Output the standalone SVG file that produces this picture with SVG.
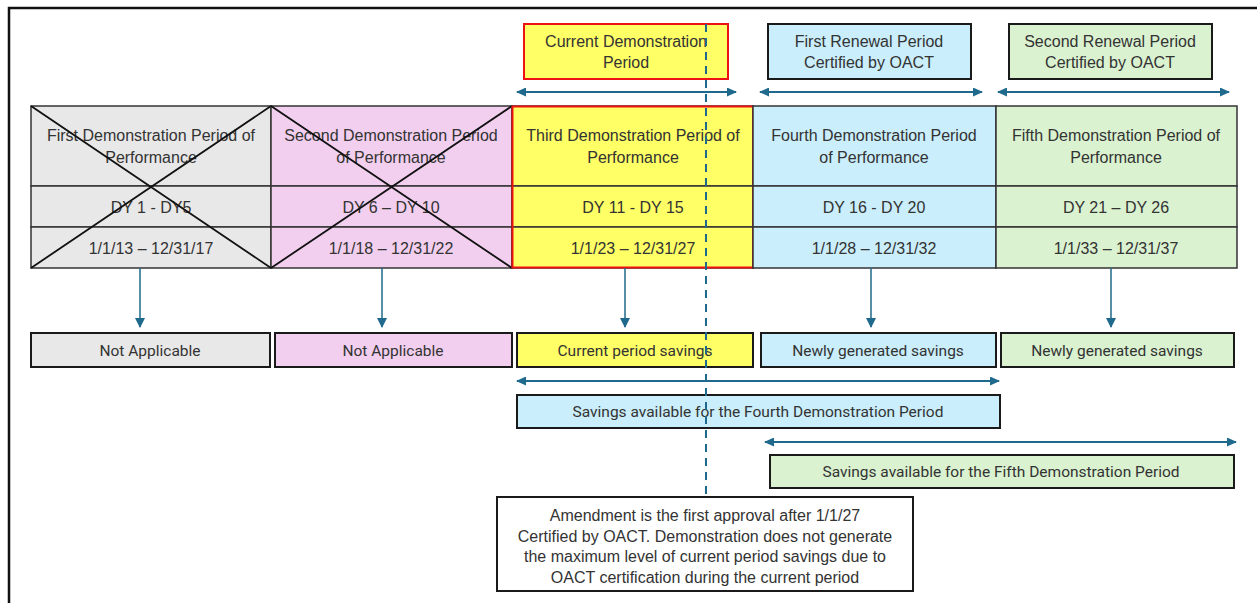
<svg xmlns="http://www.w3.org/2000/svg" width="1257" height="603" viewBox="0 0 1257 603">
<style>
text{font-family:"Liberation Sans",Arial,sans-serif;font-size:16px;fill:#333;text-anchor:middle;dominant-baseline:central}
.sm{font-family:"Roboto","Liberation Sans",sans-serif;font-size:15.5px}
.cell{stroke:#333;stroke-width:1.5}
.box{stroke:#1a1a1a;stroke-width:2}
.red{stroke:#ee1111;stroke-width:2}
.x{stroke:#111;stroke-width:1.8}
.con{stroke:#1f6a8c;stroke-width:1.5;fill:none}
.con2{stroke:#1f6a8c;stroke-width:2;fill:none}
.dash{stroke:#1f6a8c;stroke-width:2;stroke-dasharray:8 6;fill:none}
.gray{fill:#e8e8e8}.pink{fill:#f2cfee}.yel{fill:#ffff66}.blue{fill:#caeefb}.green{fill:#daf2d0}
</style>
<defs>
<marker id="ah" viewBox="0 0 10 10" refX="9" refY="5" markerWidth="10" markerHeight="9" markerUnits="userSpaceOnUse" orient="auto-start-reverse" preserveAspectRatio="none"><path d="M0,0 L10,5 L0,10 z" fill="#1f6a8c"/></marker>
<marker id="ad" viewBox="0 0 10 10" refX="9" refY="5" markerWidth="10" markerHeight="10" markerUnits="userSpaceOnUse" orient="auto"><path d="M0,0 L10,5 L0,10 z" fill="#1f6a8c"/></marker>
</defs>
<rect x="0" y="0" width="1257" height="603" fill="#fff"/>
<path d="M9,603 V8 H1257" fill="none" stroke="#111" stroke-width="2.5"/>

<g id="top-current"><rect x="524" y="24" width="204" height="55" class="yel red"/><text x="626" y="41">Current Demonstration</text><text x="626" y="62">Period</text></g>
<g id="top-first"><rect x="768" y="24" width="203" height="55" class="blue box"/><text x="869" y="41">First Renewal Period</text><text x="869" y="62">Certified by OACT</text></g>
<g id="top-second"><rect x="1009" y="24" width="203" height="55" class="green box"/><text x="1110" y="41">Second Renewal Period</text><text x="1110" y="62">Certified by OACT</text></g>

<g id="col1">
<rect x="31" y="106" width="240" height="80" class="gray cell"/><rect x="31" y="186" width="240" height="41" class="gray cell"/><rect x="31" y="227" width="240" height="41" class="gray cell"/>
<text x="151" y="135">First Demonstration Period of</text><text x="151" y="157">Performance</text>
<text x="151" y="207">DY 1 - DY5</text><text x="151" y="248">1/1/13 – 12/31/17</text>
<path d="M31,106 L271,268 M31,268 L271,106" class="x"/>
</g>
<g id="col2">
<rect x="271" y="106" width="241" height="80" class="pink cell"/><rect x="271" y="186" width="241" height="41" class="pink cell"/><rect x="271" y="227" width="241" height="41" class="pink cell"/>
<text x="391" y="135">Second Demonstration Period</text><text x="391" y="157">of Performance</text>
<text x="391" y="207">DY 6 – DY 10</text><text x="391" y="248">1/1/18 – 12/31/22</text>
<path d="M271,106 L512,268 M271,268 L512,106" class="x"/>
</g>
<g id="col3">
<rect x="512" y="106" width="241" height="80" class="yel cell"/><rect x="512" y="186" width="241" height="41" class="yel cell"/><rect x="512" y="227" width="241" height="41" class="yel cell"/>
<rect x="512.5" y="106.5" width="240.5" height="161" fill="none" class="red"/>
<text x="633" y="135">Third Demonstration Period of</text><text x="633" y="157">Performance</text>
<text x="633" y="207">DY 11 - DY 15</text><text x="633" y="248">1/1/23 – 12/31/27</text>
</g>
<g id="col4">
<rect x="753" y="106" width="243" height="80" class="blue cell"/><rect x="753" y="186" width="243" height="41" class="blue cell"/><rect x="753" y="227" width="243" height="41" class="blue cell"/>
<text x="874" y="135">Fourth Demonstration Period</text><text x="874" y="157">of Performance</text>
<text x="874" y="207">DY 16 - DY 20</text><text x="874" y="248">1/1/28 – 12/31/32</text>
</g>
<g id="col5">
<rect x="996" y="106" width="241" height="80" class="green cell"/><rect x="996" y="186" width="241" height="41" class="green cell"/><rect x="996" y="227" width="241" height="41" class="green cell"/>
<text x="1116" y="135">Fifth Demonstration Period of</text><text x="1116" y="157">Performance</text>
<text x="1116" y="207">DY 21 – DY 26</text><text x="1116" y="248">1/1/33 – 12/31/37</text>
</g>

<g id="na1"><rect x="31" y="333" width="239" height="34" class="gray box"/><text class="sm" x="150" y="351">Not Applicable</text></g>
<g id="na2"><rect x="275" y="333" width="237" height="34" class="pink box"/><text class="sm" x="393" y="351">Not Applicable</text></g>
<g id="cur"><rect x="517" y="333" width="236" height="34" class="yel box"/><text class="sm" x="635" y="351">Current period savings</text></g>
<g id="new4"><rect x="761" y="333" width="235" height="34" class="blue box"/><text class="sm" x="878" y="351">Newly generated savings</text></g>
<g id="new5"><rect x="1001" y="333" width="233" height="34" class="green box"/><text class="sm" x="1117" y="351">Newly generated savings</text></g>
<g id="sav4"><rect x="517" y="395" width="483" height="33" class="blue box"/><text class="sm" x="758" y="412">Savings available for the Fourth Demonstration Period</text></g>
<g id="sav5"><rect x="770" y="455" width="464" height="33" class="green box"/><text class="sm" x="1001" y="472">Savings available for the Fifth Demonstration Period</text></g>
<g id="note"><rect x="497" y="497" width="416" height="94" fill="#fff" class="box"/>
<text x="705" y="515">Amendment is the first approval after 1/1/27</text>
<text x="705" y="536">Certified by OACT. Demonstration does not generate</text>
<text x="705" y="556">the maximum level of current period savings due to</text>
<text x="705" y="577">OACT certification during the current period</text></g>

<g id="connectors">
<line x1="517" y1="92" x2="736" y2="92" class="con2" marker-start="url(#ah)" marker-end="url(#ah)"/>
<line x1="760" y1="92" x2="982" y2="92" class="con2" marker-start="url(#ah)" marker-end="url(#ah)"/>
<line x1="998" y1="92" x2="1229" y2="92" class="con2" marker-start="url(#ah)" marker-end="url(#ah)"/>
<line x1="140" y1="268" x2="140" y2="327" class="con" marker-end="url(#ad)"/>
<line x1="382" y1="268" x2="382" y2="327" class="con" marker-end="url(#ad)"/>
<line x1="625" y1="268" x2="625" y2="327" class="con" marker-end="url(#ad)"/>
<line x1="871" y1="268" x2="871" y2="327" class="con" marker-end="url(#ad)"/>
<line x1="1111" y1="268" x2="1111" y2="327" class="con" marker-end="url(#ad)"/>
<line x1="517" y1="381" x2="999" y2="381" class="con2" marker-start="url(#ah)" marker-end="url(#ah)"/>
<line x1="765" y1="442" x2="1236" y2="442" class="con2" marker-start="url(#ah)" marker-end="url(#ah)"/>
<line x1="706" y1="24" x2="706" y2="496" class="dash"/>
</g>
</svg>
